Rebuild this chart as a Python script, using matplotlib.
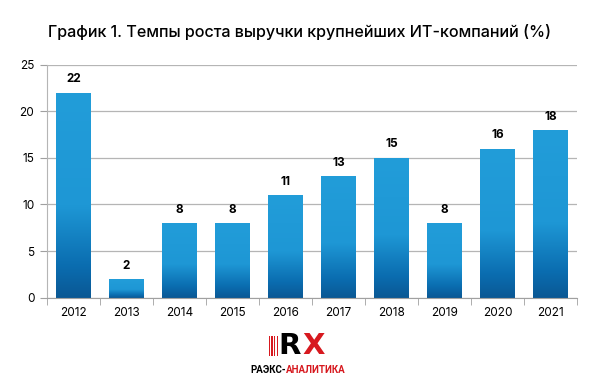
"""Revenue growth of the largest IT companies, recreated chart."""

import numpy as np
import matplotlib
matplotlib.use("Agg")
import matplotlib.pyplot as plt
from matplotlib.colors import LinearSegmentedColormap
from matplotlib.patches import Rectangle

years = ["2012", "2013", "2014", "2015", "2016", "2017", "2018", "2019", "2020", "2021"]
growth = [22, 2, 8, 8, 11, 13, 15, 8, 16, 18]

title = "График 1. Темпы роста выручки крупнейших ИТ-компаний (%)"

plt.rcParams["font.family"] = ["Inter", "Noto Sans", "DejaVu Sans"]

fig = plt.figure(figsize=(6.0, 3.88), dpi=100)
ax = fig.add_axes([0.078, 0.233, 0.884, 0.600])

# bottom dark -> top light
cmap = LinearSegmentedColormap.from_list(
    "bar", [(0.0, "#0b5894"), (0.15, "#0a6caf"), (0.45, "#1e97d5"), (1.0, "#229dd9")])
grad = np.linspace(0, 1, 256).reshape(-1, 1)

x = np.arange(len(years))
width = 0.65
bars = ax.bar(x, growth, width=width, color="none", edgecolor="none", zorder=3)
for bar, v in zip(bars, growth):
    x0 = bar.get_x()
    ax.imshow(grad, cmap=cmap, origin="lower", aspect="auto",
              extent=(x0, x0 + bar.get_width(), 0, v), zorder=2)
    ax.text(bar.get_x() + bar.get_width() / 2, v + 0.8, str(v),
            ha="center", va="bottom", fontsize=8.5, fontweight="bold")

ax.set_xlim(-0.5, len(years) - 0.5)
ax.set_ylim(0, 25)
ax.set_yticks(range(0, 26, 5))
ax.set_xticks(x)
ax.set_xticklabels(years)
ax.set_xticks(np.arange(-0.5, len(years), 1.0), minor=True)
ax.tick_params(axis="x", which="major", length=0, labelsize=8.5, pad=7)
ax.tick_params(axis="x", which="minor", length=5, color="#a0a0a0")
ax.tick_params(axis="y", length=5, color="#a0a0a0", labelsize=8.5, pad=4)

ax.grid(True, axis="y", color="#b5b5b5", linewidth=0.9, zorder=0)
for side in ["top", "right"]:
    ax.spines[side].set_visible(False)
ax.spines["left"].set_color("#b5b5b5")
ax.spines["bottom"].set_color("#a0a0a0")

fig.text(0.5, 0.918, title, ha="center", va="center", fontsize=11.6,
         fontweight="medium")

# logo
for i in range(4):
    fig.patches.append(Rectangle(((268.5 + i * 2.7) / 600, 1 - 356 / 388),
                                 1.3 / 600, 20 / 388, transform=fig.transFigure,
                                 facecolor="#d7191f", linewidth=0))
fig.text(278 / 600, 1 - 345.5 / 388, "R", ha="left", va="center", fontsize=21,
         fontweight="heavy", color="black", family="DejaVu Sans")
fig.text(302 / 600, 1 - 345.5 / 388, "X", ha="left", va="center", fontsize=21,
         fontweight="heavy", color="#d7191f", family="DejaVu Sans")
fig.text(286 / 600, 1 - 370 / 388, "РАЭКС-", ha="right", va="center",
         fontsize=7, fontweight="bold", color="black", family="Roboto")
fig.text(286 / 600, 1 - 370 / 388, "АНАЛИТИКА", ha="left", va="center",
         fontsize=7, fontweight="bold", color="#d7191f", family="Roboto")

fig.savefig("out.png", dpi=100)
